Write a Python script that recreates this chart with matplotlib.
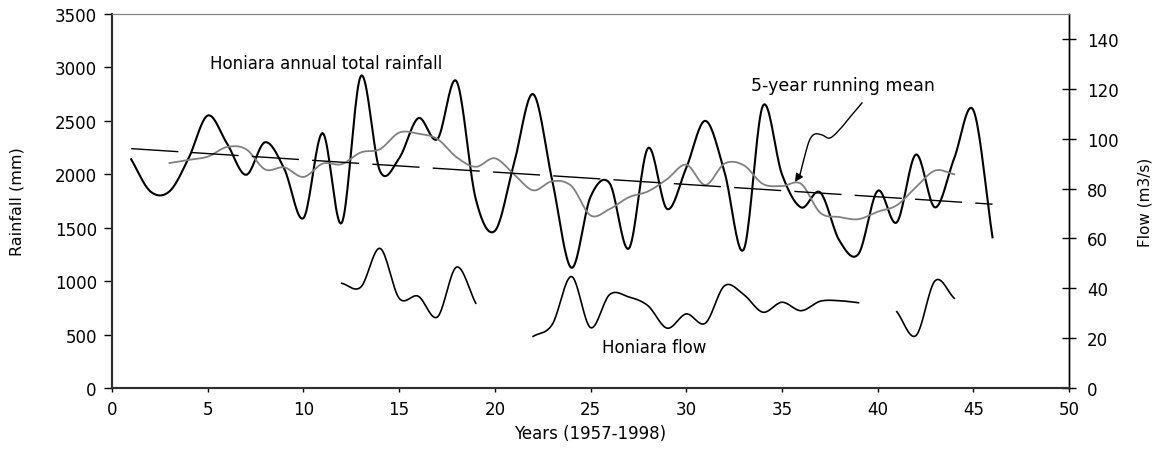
import numpy as np
import matplotlib
matplotlib.use("Agg")
import matplotlib.pyplot as plt

plt.rcParams['font.family'] = ['DejaVu Sans']

# annual rainfall (mm), years 1..46
rain_years = list(range(1, 47))
rainfall = [2140, 1840, 1840, 2150, 2550, 2290, 1995, 2300, 2050, 1590,
            2385, 1545, 2920, 2030, 2150, 2525, 2330, 2870, 1770, 1470,
            2100, 2750, 1940, 1125, 1790, 1915, 1305, 2245, 1675, 2060,
            2500, 2020, 1295, 2640, 2000, 1690, 1830, 1380, 1255, 1845,
            1550, 2185, 1690, 2150, 2600, 1410]

# 5-year running mean (mm), years 3..44
mean_years = list(range(3, 45))
running_mean = [2105, 2135, 2165, 2255, 2235, 2045, 2065, 1975, 2100, 2095,
                2205, 2235, 2390, 2380, 2330, 2160, 2070, 2150, 2000, 1850,
                1935, 1890, 1615, 1675, 1785, 1840, 1955, 2090, 1900, 2100,
                2085, 1910, 1890, 1910, 1640, 1600, 1580, 1650, 1710, 1880,
                2035, 2000]

# linear trend of rainfall
trend_years = [1, 46]
trend_rain = [2240, 1720]

# Honiara flow (m3/s), three gauged periods
flow1_years = list(range(12, 20))
flow1 = [42, 40.5, 56, 36, 36.8, 28.5, 48.5, 34]
flow2_years = list(range(22, 40))
flow2 = [20.7, 25.5, 44.7, 24.2, 37.5, 36.5, 33, 24, 29.7, 26,
         41, 37.5, 30.4, 34.4, 31, 34.8, 35, 34.2]
flow3_years = [41, 42, 43, 44]
flow3 = [30.6, 21, 43, 36]

# hand-drawn pointer to the running mean
pointer_x = [39.18, 38.56, 38.04, 37.51, 37.10, 36.73, 36.47, 36.26, 35.95]
pointer_y = [2667, 2536, 2424, 2340, 2368, 2377, 2330, 2218, 2003]
pointer_tip = (35.68, 1928)


def smooth(x, y, n=20):
    # Catmull-Rom style smoothing like a spreadsheet "smoothed line"
    x = np.asarray(x, float)
    y = np.asarray(y, float)
    px = np.concatenate([[2 * x[0] - x[1]], x, [2 * x[-1] - x[-2]]])
    py = np.concatenate([[2 * y[0] - y[1]], y, [2 * y[-1] - y[-2]]])
    xs, ys = [], []
    for i in range(1, len(x)):
        t = np.linspace(0, 1, n, endpoint=(i == len(x) - 1))[:, None]
        pts = []
        for p in (px, py):
            p0, p1, p2, p3 = p[i - 1], p[i], p[i + 1], p[i + 2]
            c1 = p1 + (p2 - p0) / 6
            c2 = p2 - (p3 - p1) / 6
            b = ((1 - t) ** 3 * p1 + 3 * (1 - t) ** 2 * t * c1
                 + 3 * (1 - t) * t ** 2 * c2 + t ** 3 * p2)
            pts.append(b.ravel())
        xs.append(pts[0])
        ys.append(pts[1])
    return np.concatenate(xs), np.concatenate(ys)


fig = plt.figure(figsize=(11.54, 4.52), dpi=100)
ax = fig.add_axes([0.0971, 0.1394, 0.8293, 0.8274])
ax2 = ax.twinx()

sx, sy = smooth(rain_years, rainfall)
ax.plot(sx, sy, color='black', lw=1.5)
sx, sy = smooth(mean_years, running_mean)
ax.plot(sx, sy, color='#808080', lw=1.3)
ax.plot(trend_years, trend_rain, color='black', lw=1, linestyle=(0, (34, 9.5)))

for fx, fy in [(flow1_years, flow1), (flow2_years, flow2), (flow3_years, flow3)]:
    sx, sy = smooth(fx, fy)
    ax2.plot(sx, sy, color='black', lw=1.2)

# pointer
sx, sy = smooth(pointer_x, pointer_y, n=10)
ax.plot(sx, sy, color='black', lw=1)
ax.annotate('', xy=pointer_tip, xytext=(pointer_x[-1], pointer_y[-1]),
            arrowprops=dict(arrowstyle='-|>', color='black', lw=1,
                            mutation_scale=12, shrinkA=0, shrinkB=0))

ax.text(5.1, 3040, 'Honiara annual total rainfall', fontsize=12, va='center', ha='left')
ax.text(33.4, 2835, '5-year running mean', fontsize=12.5, va='center', ha='left')
ax.text(25.6, 384, 'Honiara flow', fontsize=12, va='center', ha='left')

ax.set_xlim(0, 50)
ax.set_ylim(0, 3500)
ax.set_xticks(range(0, 51, 5))
ax.set_yticks(range(0, 3501, 500))
ax2.set_ylim(0, 150)
ax2.set_yticks(range(0, 141, 20))

ax.tick_params(axis='y', direction='out', length=6, width=1, pad=5, labelsize=12)
ax.tick_params(axis='x', direction='out', length=3, width=1, pad=6, labelsize=12)
ax2.tick_params(axis='y', direction='inout', length=10, width=1, pad=8, labelsize=12)

for a in (ax, ax2):
    a.spines['left'].set_color('#303030')
    a.spines['left'].set_linewidth(1.5)
    a.spines['bottom'].set_color('#303030')
    a.spines['bottom'].set_linewidth(1.5)
    a.spines['top'].set_color('#808080')
    a.spines['top'].set_linewidth(0.8)
    a.spines['right'].set_color('black')
    a.spines['right'].set_linewidth(1)

ax.set_xlabel('Years (1957-1998)', fontsize=12)
ax.set_ylabel('Rainfall (mm)', fontsize=11.5)
ax.yaxis.set_label_coords(-0.091, 0.5)
ax2.set_ylabel('Flow (m3/s)', fontsize=11)
ax2.yaxis.set_label_coords(1.072, 0.5)

fig.savefig('out.png', dpi=100)
